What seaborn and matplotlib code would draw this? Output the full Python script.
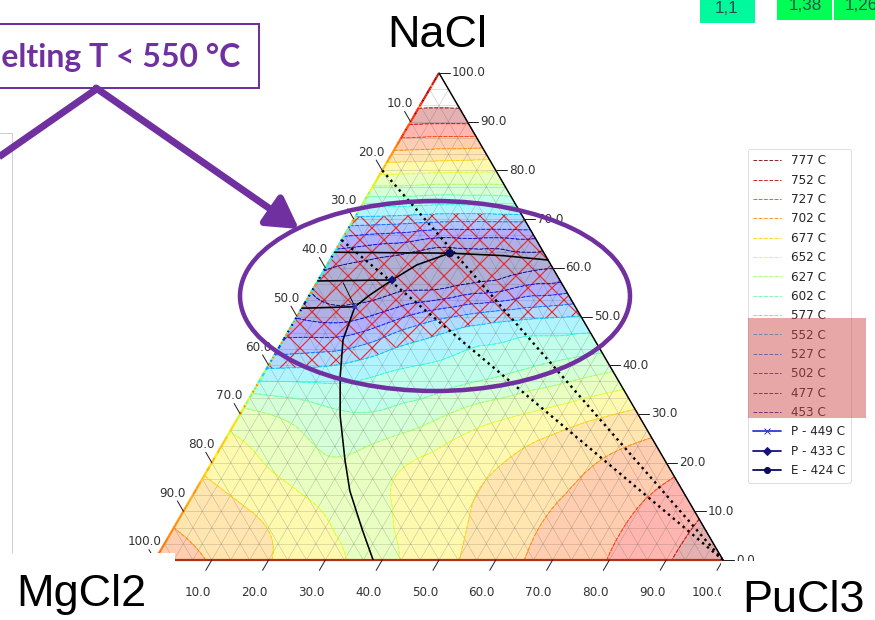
import numpy as np
import matplotlib
matplotlib.use("Agg")
import matplotlib.pyplot as plt
import matplotlib.tri as mtri
from matplotlib.colors import Normalize
from matplotlib.patches import Rectangle, Ellipse, FancyArrowPatch
from matplotlib.lines import Line2D
from matplotlib.collections import LineCollection
import seaborn as sns

# ---------------- data ----------------
# liquidus temperature (deg C) on a 10 mol% grid.
# one list per NaCl content; entries are PuCl3 = 0, 10, 20, ... mol%
NACL_ROWS = [100, 90, 80, 70, 60, 50, 40, 30, 20, 10, 0]
T_100 = [801]
T_90 = [757, 756]
T_80 = [660, 657, 655]
T_70 = [545, 540, 535, 537]
T_60 = [455, 442, 430, 440, 452]
T_50 = [475, 470, 505, 532, 546, 553]
T_40 = [545, 550, 568, 580, 592, 605, 618]
T_30 = [635, 618, 603, 612, 635, 652, 668, 682]
T_20 = [670, 650, 630, 642, 660, 675, 690, 705, 718]
T_10 = [695, 680, 662, 645, 658, 676, 695, 710, 728, 748]
T_0 = [714, 700, 678, 660, 648, 668, 692, 710, 728, 750, 768]
T_ROWS = [T_100, T_90, T_80, T_70, T_60, T_50, T_40, T_30, T_20, T_10, T_0]

ISO_LEVELS = [777, 752, 727, 702, 677, 652, 627, 602, 577, 552, 527, 502, 477, 453]
HATCH_MAX = 552

# invariant points
INV_LABELS = ["P - 449 C", "P - 433 C", "E - 424 C"]
INV_NACL = [52.0, 57.5, 63.0]
INV_PUCL3 = [9.2, 13.0, 20.4]

# phase-boundary curves (NaCl %, PuCl3 %)
B1_NACL = [63.2, 63.1, 63.0, 62.5, 61.6]
B1_PUCL3 = [0.0, 10.0, 20.4, 30.0, 38.4]
B2_NACL = [63.0, 60.6, 57.5, 54.4, 52.0, 45.2, 37.6, 29.6, 20.5, 14.2, 6.2, 0.0]
B2_PUCL3 = [20.4, 15.8, 13.0, 10.6, 9.2, 10.5, 13.8, 17.8, 23.2, 27.2, 33.4, 38.4]
B3_NACL = [57.3, 57.5]
B3_PUCL3 = [0.0, 13.0]
B4_NACL = [51.7, 52.0]
B4_PUCL3 = [0.0, 9.2]
B5_NACL = [56.9, 52.0]
B5_PUCL3 = [4.7, 9.2]
# dotted composition lines to the PuCl3 corner
D1_NACL = [80.0, 0.0]
D1_PUCL3 = [0.0, 100.0]
D2_NACL = [65.7, 0.0]
D2_PUCL3 = [0.0, 100.0]

TICKS = [0, 10, 20, 30, 40, 50, 60, 70, 80, 90, 100]
VERTEX_LABELS = ["NaCl", "MgCl2", "PuCl3"]
NOTE_TEXT = "Melting T < 550 °C"
CELL_TEXTS = ["1,1", "1,38", "1,26"]

# ---------------- styling ----------------
sns.set_theme(style="white")
plt.rcParams["font.family"] = ["DejaVu Sans"]
plt.rcParams["hatch.color"] = "#e8252b"
plt.rcParams["hatch.linewidth"] = 1.1

W, HP = 875, 620
fig = plt.figure(figsize=(W / 72, HP / 72), dpi=72)
fig.patch.set_facecolor("white")

R3 = np.sqrt(3) / 2
X0, X1, YB, YT = 155, 723, 560, 73
ax = fig.add_axes([X0 / W, 1 - YB / HP, (X1 - X0) / W, (YB - YT) / HP])
ax.set_xlim(0, 1)
ax.set_ylim(0, R3)
ax.axis("off")
SX = X1 - X0
SY = (YB - YT) / R3


def tern(nacl, pucl3):
    a = np.asarray(nacl, float) / 100.0
    b = np.asarray(pucl3, float) / 100.0
    return b + a / 2.0, a * R3


def pxoff(x, y, dx, dy):
    return x + dx / SX, y - dy / SY


# temperature field
gx, gy, gt = [], [], []
for a, row in zip(NACL_ROWS, T_ROWS):
    for j, t in enumerate(row):
        x, y = tern(a, 10 * j)
        gx.append(float(x)); gy.append(float(y)); gt.append(float(t))
gx, gy, gt = np.array(gx), np.array(gy), np.array(gt)
tri = mtri.Triangulation(gx, gy)
interp = mtri.CubicTriInterpolator(tri, gt, kind="min_E")
tri_r, t_r = mtri.UniformTriRefiner(tri).refine_field(gt, triinterpolator=interp, subdiv=4)

norm = Normalize(453, 777)
levels = sorted(ISO_LEVELS)
ax.tricontourf(tri_r, t_r, levels=[380] + levels, cmap="jet", norm=norm, alpha=0.31, zorder=1)
hc = ax.tricontourf(tri_r, t_r, levels=[380, HATCH_MAX], colors="none", hatches=["x"], zorder=2)
hc.set_edgecolor("#e8252b")
hc.set_linewidth(0)

# ternary grid
N = 30
segs = []
for k in range(1, N):
    f = 100.0 * k / N
    segs.append([tern(f, 0), tern(f, 100 - f)])
    segs.append([tern(0, f), tern(100 - f, f)])
    segs.append([tern(0, 100 - f), tern(100 - f, 0)])
ax.add_collection(LineCollection(segs, colors="#444444", linewidths=0.5, alpha=0.33, zorder=2.5))

ax.tricontour(tri_r, t_r, levels=levels, cmap="jet", norm=norm, linestyles="--",
              linewidths=1.0, alpha=0.85, zorder=3)

# borders
s = np.linspace(0.0, 99.9, 300)
ex, ey = tern(s, np.zeros_like(s))
et = np.ma.filled(np.ma.masked_invalid(interp(ex, ey)).astype(float), 700.0)
pts = np.column_stack([ex, ey]).reshape(-1, 1, 2)
lc = LineCollection(np.concatenate([pts[:-1], pts[1:]], axis=1), cmap="jet", norm=norm,
                    linewidths=2.2, zorder=4, clip_on=False)
lc.set_array(0.5 * (et[:-1] + et[1:]))
ax.add_collection(lc)
ax.plot([0, 1], [0, 0], color="#b0301a", lw=2.2, zorder=4, clip_on=False)
ax.plot([0.5, 1], [R3, 0], color="black", lw=1.5, zorder=4, clip_on=False)

# phase boundaries and composition lines
for nl, pl, lw in [(B1_NACL, B1_PUCL3, 1.6), (B2_NACL, B2_PUCL3, 1.6), (B3_NACL, B3_PUCL3, 1.6),
                   (B4_NACL, B4_PUCL3, 1.6), (B5_NACL, B5_PUCL3, 0.9)]:
    x, y = tern(nl, pl)
    sns.lineplot(x=x, y=y, sort=False, estimator=None, color="black", lw=lw, ax=ax, zorder=5)
for nl, pl in [(D1_NACL, D1_PUCL3), (D2_NACL, D2_PUCL3)]:
    x, y = tern(nl, pl)
    sns.lineplot(x=x, y=y, sort=False, estimator=None, color="black", lw=2.4,
                 linestyle=":", ax=ax, zorder=5)

ix, iy = tern(INV_NACL, INV_PUCL3)
inv_colors = {"P - 449 C": "#2a3bd6", "P - 433 C": "#14147a", "E - 424 C": "#0b0b5c"}
inv_markers = {"P - 449 C": "X", "P - 433 C": "D", "E - 424 C": "o"}
inv_sizes = [30, 40, 70]
sns.scatterplot(x=ix, y=iy, hue=INV_LABELS, style=INV_LABELS, palette=inv_colors,
                markers=inv_markers, size=INV_LABELS, sizes=dict(zip(INV_LABELS, inv_sizes)),
                legend=False, ax=ax, zorder=6, edgecolor="none")

# ticks and tick labels
tick_kw = dict(color="#222222", lw=1.0, clip_on=False, zorder=4)
txt_kw = dict(fontsize=12, color="#333333", clip_on=False)
ul, vl = -0.5036, -0.8636
for v in TICKS:
    lab = f"{v:.1f}"
    # right axis: NaCl
    x, y = tern(v, 100 - v)
    x2, y2 = pxoff(x, y, 11, 0)
    ax.plot([x, x2], [y, y2], **tick_kw)
    tx, ty = pxoff(x, y, 13, 0)
    ax.text(tx, ty, lab, ha="left", va="center", **txt_kw)
    if v == 0:
        continue
    # left axis: MgCl2
    x, y = tern(100 - v, 0)
    x2, y2 = pxoff(x, y, 12 * ul, 12 * vl)
    ax.plot([x, x2], [y, y2], **tick_kw)
    tx, ty = pxoff(x, y, 21 * ul, 21 * vl)
    ax.text(tx, ty, lab, ha="center", va="center", **txt_kw)
    # bottom axis: PuCl3
    x, y = tern(0, v)
    x2, y2 = pxoff(x, y, 12 * ul, -12 * vl)
    ax.plot([x, x2], [y, y2], **tick_kw)
    tx, ty = pxoff(x, y, -14, 32)
    ax.text(tx, ty, lab, ha="center", va="center", **txt_kw)

# ---------------- slide overlay (pixel coordinates) ----------------
ov = fig.add_axes([0, 0, 1, 1], zorder=3)
ov.set_xlim(0, W)
ov.set_ylim(HP, 0)
ov.axis("off")
ov.patch.set_alpha(0)

handles, labels = [], []
cmap = plt.get_cmap("jet")
for lv in ISO_LEVELS:
    handles.append(Line2D([], [], color=cmap(norm(lv)), ls="--", lw=1.0, alpha=0.85))
    labels.append(f"{lv} C")
for lab, mk in zip(INV_LABELS, ["x", "D", "o"]):
    handles.append(Line2D([], [], color=inv_colors[lab], marker=mk, lw=1.8, ms=6))
    labels.append(lab)
leg = ov.legend(handles, labels, loc="upper left", bbox_to_anchor=(742, 143),
                bbox_transform=ov.transData, fontsize=12, frameon=True, handlelength=2.3,
                handletextpad=0.8, labelspacing=0.53, borderpad=0.45, fancybox=True)
leg.get_frame().set_edgecolor("#cccccc")
leg.get_frame().set_linewidth(0.8)
ov.add_patch(Rectangle((748, 318), 118, 100, facecolor="#d04848", alpha=0.48,
                       edgecolor="none", zorder=10))

# white text boxes over the chart corners
ov.add_patch(Rectangle((0, 553), 175, 70, facecolor="white", edgecolor="none", zorder=4))
ov.add_patch(Rectangle((721, 561), 160, 65, facecolor="white", edgecolor="none", zorder=4))
# neighbouring slide frame
ov.plot([0, 12, 12], [133, 133, 553], color="#cccccc", lw=1.0, zorder=3)

big = dict(fontsize=45, color="black", family=["Liberation Sans", "DejaVu Sans"], zorder=5)
ov.text(437, 47, VERTEX_LABELS[0], ha="center", va="baseline", **big)
ov.text(16, 606, VERTEX_LABELS[1], ha="left", va="baseline", **big)
ov.text(742, 612, VERTEX_LABELS[2], ha="left", va="baseline", **big)

purple = "#7030A0"
ov.add_patch(Rectangle((-10, 24), 269, 64, fill=False, edgecolor=purple, lw=2, zorder=5))
ov.text(240, 57, NOTE_TEXT, ha="right", va="center", color=purple, fontsize=32,
        fontweight="bold", family=["Lato", "DejaVu Sans"], zorder=5)
ov.plot([98, -30], [88, 177], color=purple, lw=7, solid_capstyle="butt", zorder=6)
ov.add_patch(FancyArrowPatch((96, 88), (299, 229), arrowstyle="-|>,head_length=1.3,head_width=0.75",
                             mutation_scale=20, color=purple, lw=7, shrinkA=0, shrinkB=0, zorder=6))
ov.add_patch(Ellipse((435, 296), 390, 190, fill=False, edgecolor=purple, lw=4.5, zorder=6))

# table fragment top right
ov.add_patch(Rectangle((700, -5), 55, 28, facecolor="#00F99C", edgecolor="none", zorder=5))
ov.add_patch(Rectangle((777, -5), 55, 25, facecolor="#00FF55", edgecolor="none", zorder=5))
ov.add_patch(Rectangle((834, -5), 60, 25, facecolor="#00FF55", edgecolor="none", zorder=5))
for (cx, cy, ha), t in zip([(727, 13, "center"), (805, 10, "center"), (845, 10, "left")], CELL_TEXTS):
    ov.text(cx, cy, t, ha=ha, va="baseline", fontsize=17, color="#2f4f4f",
            family=["Liberation Sans", "DejaVu Sans"], zorder=6)

fig.savefig("out.png", dpi=72, facecolor="white")
